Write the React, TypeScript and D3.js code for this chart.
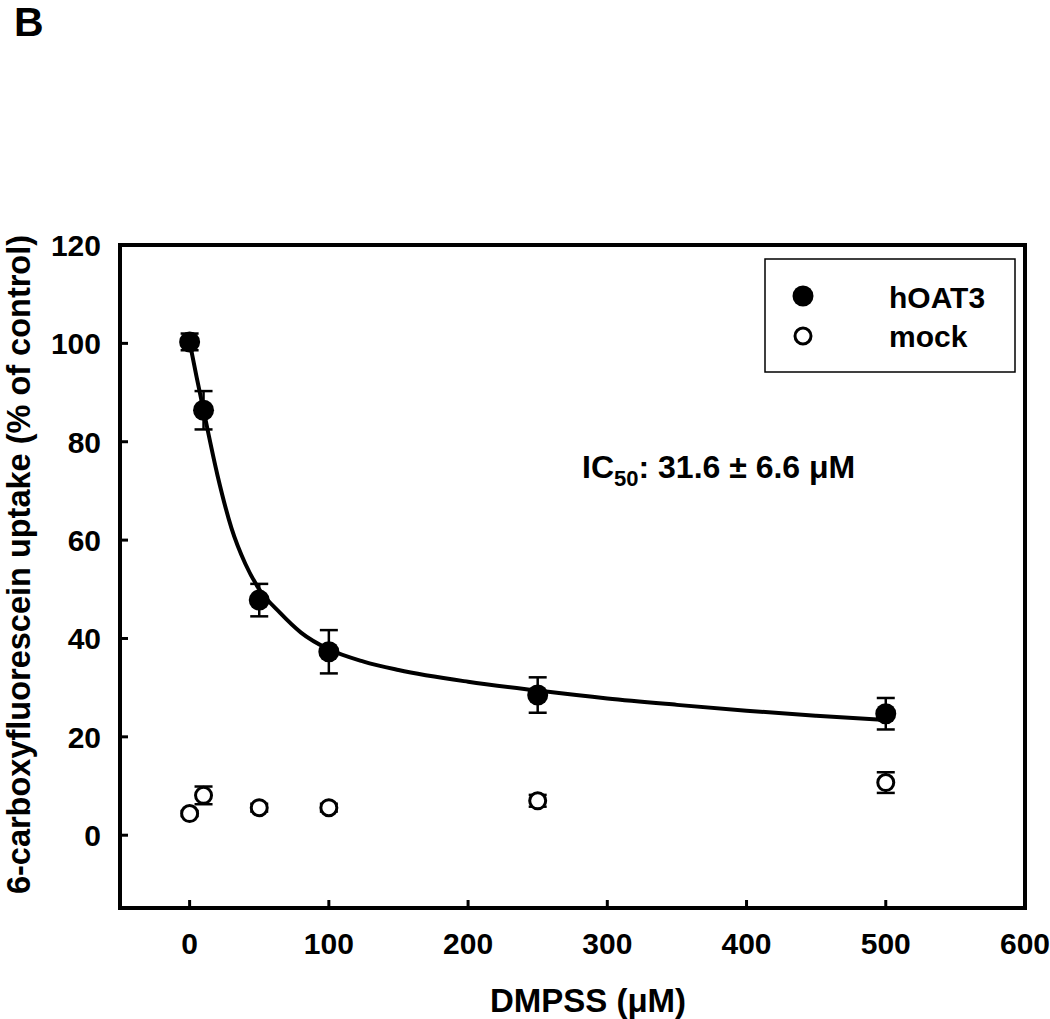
import { useEffect, useRef } from 'react';
import * as d3 from 'd3';

// measured concentrations (uM)
const conc = [0, 10, 50, 100, 250, 500];
const hoat3 = [100.3, 86.4, 47.8, 37.3, 28.5, 24.7];
const hoat3Err = [1.7, 3.9, 3.3, 4.4, 3.6, 3.2];
const mock = [4.4, 8.1, 5.6, 5.6, 7.0, 10.7];
const mockErr = [0.5, 1.8, 0.8, 0.8, 1.2, 2.1];

// fitted curve
const fitX = [0, 5, 10, 20, 30, 40, 50, 65, 80, 100, 125, 150, 200, 250, 300, 350, 400, 450, 500];
const fitY = [100.3, 93.2, 86.4, 73.2, 62.5, 55.2, 50, 45.2, 41.2, 37.8, 35.3, 33.6, 31.2, 29.4, 27.8, 26.5, 25.3, 24.3, 23.4];

const xTicks = [0, 100, 200, 300, 400, 500, 600];
const yTicks = [0, 20, 40, 60, 80, 100, 120];

const W = 1050;
const H = 1019;
const FONT = '"Liberation Sans", Arial, sans-serif';

const App = () => {
  const ref = useRef<SVGSVGElement>(null);

  useEffect(() => {
    document.body.style.margin = '0';
    const svg = d3.select(ref.current);
    svg.selectAll('*').remove();

    const left = 120, right = 1025, top = 245, bottom = 908;
    const x = d3.scaleLinear().domain([-50, 600]).range([left, right]);
    const y = d3.scaleLinear().domain([-14.8, 120]).range([bottom, top]);

    // panel letter
    svg.append('text').text('B')
      .attr('x', 14).attr('y', 36)
      .attr('font-family', FONT).attr('font-weight', 'bold').attr('font-size', 41);

    // ticks (inward)
    const tk = svg.append('g').attr('stroke', 'black').attr('stroke-width', 3);
    yTicks.forEach(v => {
      tk.append('line').attr('x1', left).attr('x2', left + 8).attr('y1', y(v)).attr('y2', y(v));
    });
    xTicks.forEach(v => {
      tk.append('line').attr('x1', x(v)).attr('x2', x(v)).attr('y1', bottom).attr('y2', bottom - 8);
    });

    // frame
    svg.append('rect')
      .attr('x', left).attr('y', top).attr('width', right - left).attr('height', bottom - top)
      .attr('fill', 'none').attr('stroke', 'black').attr('stroke-width', 4);

    // tick labels
    svg.append('g').selectAll('text').data(yTicks).enter().append('text')
      .text(d => d)
      .attr('x', 101).attr('y', d => y(d)).attr('dy', '0.36em')
      .attr('text-anchor', 'end')
      .attr('font-family', FONT).attr('font-weight', 'bold').attr('font-size', 30);
    svg.append('g').selectAll('text').data(xTicks).enter().append('text')
      .text(d => d)
      .attr('x', d => x(d)).attr('y', 954)
      .attr('text-anchor', 'middle')
      .attr('font-family', FONT).attr('font-weight', 'bold').attr('font-size', 30);

    // axis titles
    svg.append('text').text('DMPSS (\u03bcM)')
      .attr('x', 588).attr('y', 1012).attr('text-anchor', 'middle')
      .attr('font-family', FONT).attr('font-weight', 'bold').attr('font-size', 33);
    svg.append('text').text('6-carboxyfluorescein uptake (% of control)')
      .attr('transform', `translate(30,${(top + bottom) / 2 - 12}) rotate(-90)`)
      .attr('text-anchor', 'middle')
      .attr('font-family', FONT).attr('font-weight', 'bold').attr('font-size', 32.5);

    // fit curve
    const line = d3.line<number>()
      .x((d, i) => x(fitX[i]))
      .y(d => y(d))
      .curve(d3.curveMonotoneX);
    svg.append('path').datum(fitY)
      .attr('d', line)
      .attr('fill', 'none').attr('stroke', 'black').attr('stroke-width', 4);

    // error bars
    const drawErr = (vals: number[], errs: number[]) => {
      const g = svg.append('g').attr('stroke', 'black').attr('stroke-width', 2.5);
      vals.forEach((v, i) => {
        const cx = x(conc[i]);
        const y1 = y(v + errs[i]), y2 = y(v - errs[i]);
        g.append('line').attr('x1', cx).attr('x2', cx).attr('y1', y1).attr('y2', y2);
        g.append('line').attr('x1', cx - 9).attr('x2', cx + 9).attr('y1', y1).attr('y2', y1);
        g.append('line').attr('x1', cx - 9).attr('x2', cx + 9).attr('y1', y2).attr('y2', y2);
      });
    };
    drawErr(hoat3, hoat3Err);
    drawErr(mock, mockErr);

    svg.append('g').selectAll('circle').data(hoat3).enter().append('circle')
      .attr('cx', (d, i) => x(conc[i])).attr('cy', d => y(d)).attr('r', 10.5)
      .attr('fill', 'black');
    svg.append('g').selectAll('circle').data(mock).enter().append('circle')
      .attr('cx', (d, i) => x(conc[i])).attr('cy', d => y(d)).attr('r', 8)
      .attr('fill', 'white').attr('stroke', 'black').attr('stroke-width', 3);

    // IC50 annotation
    const ic = svg.append('text')
      .attr('x', 582).attr('y', 478)
      .attr('font-family', FONT).attr('font-weight', 'bold').attr('font-size', 32);
    ic.append('tspan').text('IC');
    ic.append('tspan').text('50').attr('font-size', 22).attr('dy', 8);
    ic.append('tspan').text(': 31.6 \u00b1 6.6 \u03bcM').attr('dy', -8);

    // legend
    const lg = svg.append('g');
    lg.append('rect')
      .attr('x', 765).attr('y', 259).attr('width', 250).attr('height', 113)
      .attr('fill', 'white').attr('stroke', 'black').attr('stroke-width', 1.5);
    lg.append('circle').attr('cx', 803).attr('cy', 296).attr('r', 10.5).attr('fill', 'black');
    lg.append('circle').attr('cx', 803).attr('cy', 336).attr('r', 8)
      .attr('fill', 'white').attr('stroke', 'black').attr('stroke-width', 3);
    lg.append('text').text('hOAT3').attr('x', 889).attr('y', 308)
      .attr('font-family', FONT).attr('font-weight', 'bold').attr('font-size', 30);
    lg.append('text').text('mock').attr('x', 889).attr('y', 347)
      .attr('font-family', FONT).attr('font-weight', 'bold').attr('font-size', 30);
  }, []);

  return (
    <div>
      <svg ref={ref} width={W} height={H} style={{ display: 'block', background: 'white' }} />
    </div>
  );
};

export default App;
